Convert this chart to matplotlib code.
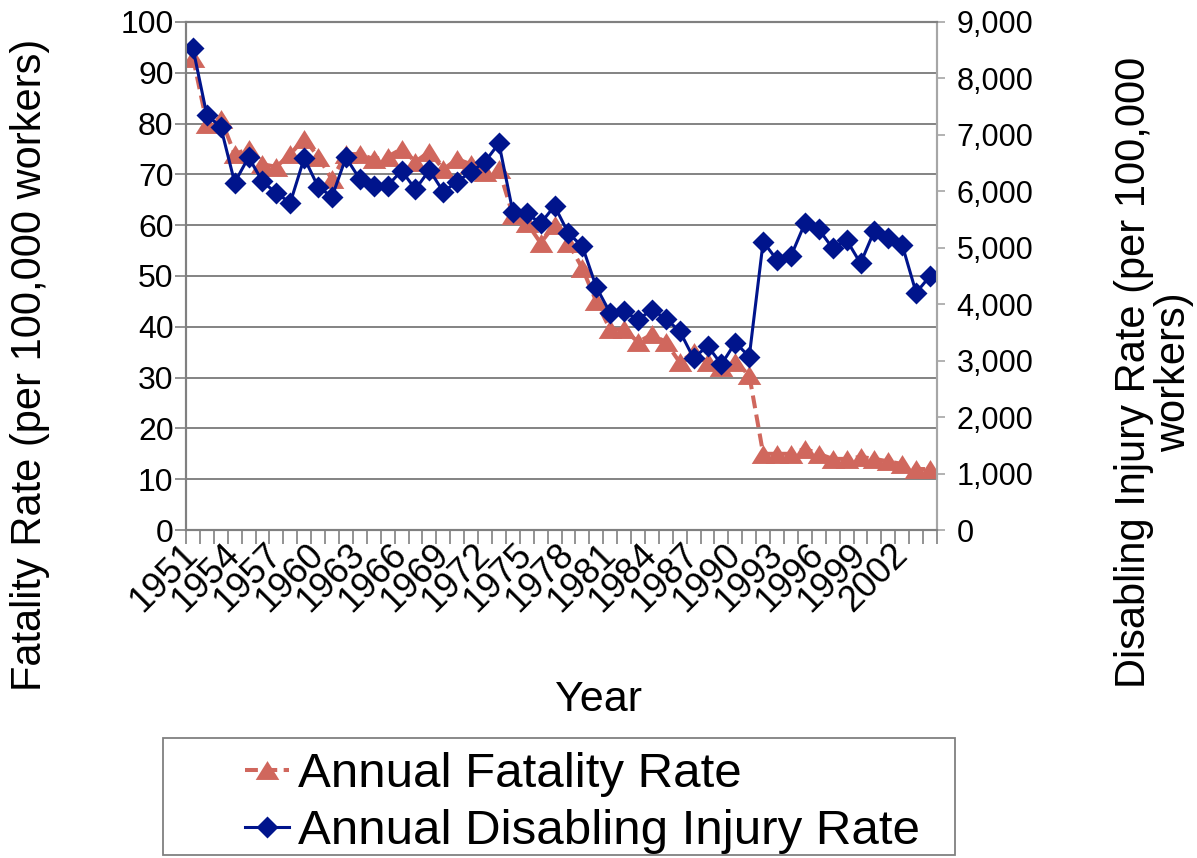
import numpy as np
import matplotlib.pyplot as plt
from matplotlib.patches import Rectangle
from matplotlib.ticker import FuncFormatter, FixedLocator

plt.rcParams['font.family'] = ['Liberation Sans', 'DejaVu Sans']

# 数据：1951-2004
years = list(range(1951, 2005))
fatality_rate = [93, 80, 81, 74, 75, 72, 71.5, 74, 77, 73.5,
                 69, 74, 74, 73, 73.5, 75, 72.5, 74.5, 71, 73,
                 72, 70.5, 71, 62, 60.5, 56.5, 60, 56.5, 51.5, 45,
                 39.5, 39.5, 37, 38.5, 37, 33, 35, 33, 32, 33,
                 30.5, 15, 15, 15, 16, 15, 14, 14, 14.4, 14,
                 13.5, 13, 12, 12]
injury_rate = [8534, 7350, 7140, 6155, 6605, 6175, 5965, 5800, 6590, 6080,
               5905, 6600, 6215, 6100, 6100, 6366, 6036, 6378, 5994, 6171,
               6348, 6525, 6851, 5640, 5610, 5434, 5740, 5256, 5025, 4305,
               3845, 3875, 3725, 3905, 3740, 3525, 3042, 3263, 2935, 3320,
               3071, 5108, 4783, 4854, 5433, 5327, 4990, 5138, 4725, 5303,
               5168, 5049, 4204, 4500]
label_years = years[::3]

red = '#D0675D'
blue = '#00148C'
W, H = 1197, 858

fig = plt.figure(figsize=(W / 100, H / 100), dpi=100)
ax = fig.add_axes([186 / W, 1 - 530 / H, (937 - 186) / W, (530 - 22) / H])
ax2 = ax.twinx()

x = np.arange(len(years))
tri = [(0, 0.8), (-1, -0.8), (1, -0.8)]
l1, = ax.plot(x, fatality_rate, color=red, lw=2.9, ls=(0, (3.2, 1.6)),
              marker=tri, ms=17, mec='none', mfc=red, dash_capstyle='butt')
l2, = ax2.plot(x, injury_rate, color=blue, lw=2.2, marker='D', ms=11,
               mec='none', mfc=blue)

ax.set_xlim(-0.5, len(years) - 0.5)
ax.set_ylim(0, 100)
ax2.set_ylim(0, 9000)
ax.set_yticks(np.arange(0, 101, 10))
ax2.set_yticks(np.arange(0, 9001, 1000))
ax2.yaxis.set_major_formatter(FuncFormatter(lambda v, p: f'{int(v):,}'))

# 网格线
ax.yaxis.grid(True, color='#7a7a7a', lw=1.3)
ax.set_axisbelow(True)

# x轴：标签在类别中心，刻度在类别边界
ax.xaxis.set_major_locator(FixedLocator([years.index(y) for y in label_years]))
ax.set_xticklabels([str(y) for y in label_years], rotation=45, ha='right',
                   va='center', rotation_mode='anchor')
ax.xaxis.set_minor_locator(FixedLocator(np.arange(-0.5, len(years), 1)))
ax.tick_params(axis='x', which='major', length=0, pad=14, labelsize=26)
ax.tick_params(axis='x', which='minor', length=10, color='#808080', width=1.2)
ax.tick_params(axis='y', length=8, color='#808080', width=1.2, labelsize=23, pad=1)
ax2.tick_params(axis='y', length=6, color='#a6a6a6', width=1.2, labelsize=22, pad=8)

for a in (ax, ax2):
    for s in ('left', 'bottom', 'top'):
        a.spines[s].set_color('#808080')
        a.spines[s].set_linewidth(1.5)
    a.spines['right'].set_color('#a6a6a6')
    a.spines['right'].set_linewidth(1.5)

# 轴标题
fig.text(30 / W, 1 - 365 / H, 'Fatality Rate (per 100,000 workers)', rotation=90,
         ha='center', va='center', fontsize=30)
fig.text(1134 / W, 1 - 372 / H, 'Disabling Injury Rate (per 100,000', rotation=90,
         ha='center', va='center', fontsize=30)
fig.text(1174 / W, 1 - 372 / H, 'workers)', rotation=90,
         ha='center', va='center', fontsize=30)
fig.text(598 / W, 1 - 700 / H, 'Year', ha='center', va='center', fontsize=31)

# 图例
fig.legend(handles=[l1, l2], labels=['Annual Fatality Rate', 'Annual Disabling Injury Rate'],
           loc='upper left', bbox_to_anchor=(245 / W, 1 - 752 / H), frameon=False,
           fontsize=35.5, handlelength=0.9, handletextpad=0.17, labelspacing=0.25,
           borderpad=0, borderaxespad=0, numpoints=1)
fig.patches.append(Rectangle((163 / W, 3 / H), 792 / W, 117 / H, transform=fig.transFigure,
                             fill=False, edgecolor='#808080', lw=1.3))

fig.savefig('out.png', dpi=100)
